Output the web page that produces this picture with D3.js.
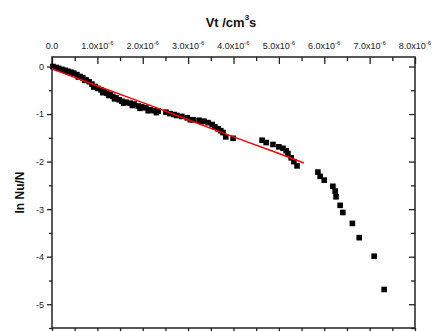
<!DOCTYPE html>
<html><head><meta charset="utf-8">
<script src="https://cdn.jsdelivr.net/npm/d3@7"></script>
<style>html,body{margin:0;padding:0;background:#fff;}svg{display:block;font-family:Arial,"Liberation Sans",sans-serif;}</style>
</head><body>
<svg id="c" width="436" height="331"></svg>
<script>
// x values in units of 1e-6 cm^3 s
const pointsX = [0.02,0.09,0.15,0.22,0.29,0.35,0.42,0.48,0.55,0.62,0.68,0.75,0.82,0.88,0.95,1.01,1.08,1.15,1.21,1.28,1.34,1.41,1.48,1.54,1.63,1.72,1.81,1.90,1.98,2.07,2.16,2.25,2.34,2.51,2.60,2.69,2.86,2.98,3.11,3.24,3.35,3.44,3.53,3.59,3.66,3.72,3.77,3.83,3.99,4.63,4.72,4.87,5.00,5.09,5.16,5.20,5.27,5.33,5.40,5.86,5.91,6.00,6.19,6.24,6.26,6.35,6.41,6.62,6.77,7.10,7.32,
  0.58,0.72,0.92,1.12,1.25,1.38,1.58,1.77,1.94,2.12,2.30,2.75,3.05,3.30];
const pointsY = [0.00,-0.02,-0.04,-0.06,-0.08,-0.10,-0.12,-0.14,-0.17,-0.21,-0.24,-0.28,-0.32,-0.37,-0.42,-0.46,-0.49,-0.53,-0.56,-0.59,-0.63,-0.66,-0.70,-0.73,-0.75,-0.77,-0.79,-0.83,-0.85,-0.87,-0.91,-0.93,-0.94,-0.96,-0.99,-1.01,-1.05,-1.08,-1.12,-1.13,-1.15,-1.18,-1.22,-1.27,-1.31,-1.35,-1.39,-1.48,-1.51,-1.55,-1.60,-1.64,-1.69,-1.72,-1.77,-1.83,-1.92,-2.00,-2.09,-2.22,-2.31,-2.39,-2.52,-2.62,-2.74,-2.92,-3.07,-3.30,-3.60,-3.99,-4.69,
  -0.22,-0.29,-0.43,-0.55,-0.61,-0.68,-0.77,-0.82,-0.88,-0.93,-0.97,-1.03,-1.12,-1.16];
const fitX = [0, 1, 2, 3, 4, 5, 5.55];
const fitY = [-0.05, -0.41, -0.76, -1.12, -1.48, -1.83, -2.03];
const xTickValues = [0,1,2,3,4,5,6,7,8];
const xTickMantissa = ["0.0","1.0","2.0","3.0","4.0","5.0","6.0","7.0","8.0"];
const xTickExponent = "-6";
const yTickValues = [0,-1,-2,-3,-4,-5];
const yTickLabels = ["0","-1","-2","-3","-4","-5"];
const xTitle = "Vt /cm";
const xTitleSup = "3";
const xTitleEnd = "s";
const yTitle = "ln Nu/N";

const svg = d3.select("#c");
const L = 52, R = 415, T = 57, B = 328;
const x = d3.scaleLinear().domain([0, 8]).range([L, R]);
const y = d3.scaleLinear().domain([0.2, -5.5]).range([T, B]);
const axisColor = "#222";

const xMinor = d3.range(0, 8.01, 0.5).filter(v => Math.abs(v - Math.round(v)) > 0.01);
const yMinor = d3.range(0, -5.51, -0.5).filter(v => Math.abs(v - Math.round(v)) > 0.01);

svg.append("g").attr("transform", `translate(0,${T})`)
  .call(d3.axisTop(x).tickValues(xTickValues).tickSize(-7).tickFormat(""));
svg.append("g").attr("transform", `translate(0,${T})`)
  .call(d3.axisTop(x).tickValues(xMinor).tickSize(-4).tickFormat(""));
svg.append("g").attr("transform", `translate(0,${B})`)
  .call(d3.axisBottom(x).tickValues(xTickValues).tickSize(7).tickFormat(""));
svg.append("g").attr("transform", `translate(0,${B})`)
  .call(d3.axisBottom(x).tickValues(xMinor).tickSize(4).tickFormat(""));
svg.append("g").attr("transform", `translate(${L},0)`)
  .call(d3.axisLeft(y).tickValues(yTickValues).tickSize(5).tickPadding(3).tickFormat((d,i)=>yTickLabels[i]))
  .attr("class","ylab");
svg.append("g").attr("transform", `translate(${L},0)`)
  .call(d3.axisLeft(y).tickValues(yMinor).tickSize(3).tickFormat(""));
svg.append("g").attr("transform", `translate(${R},0)`)
  .call(d3.axisRight(y).tickValues(yTickValues).tickSize(-6).tickFormat(""));
svg.append("g").attr("transform", `translate(${R},0)`)
  .call(d3.axisRight(y).tickValues(yMinor).tickSize(-4).tickFormat(""));

svg.selectAll(".domain").remove();
svg.selectAll(".tick line").attr("stroke", axisColor).attr("stroke-width", 1.3);
svg.selectAll(".ylab text").attr("font-size", 9).attr("fill", "#222").attr("font-family", "Arial, Liberation Sans, sans-serif");

svg.append("rect").attr("x", L).attr("y", T).attr("width", R - L).attr("height", B - T)
  .attr("fill", "none").attr("stroke", axisColor).attr("stroke-width", 1.5);

const tl = svg.append("g").selectAll("text").data(xTickValues).join("text")
  .attr("x", d => x(d)).attr("y", 49).attr("text-anchor", "middle")
  .attr("font-size", 9).attr("fill", "#222");
tl.each(function(d, i) {
  const t = d3.select(this);
  if (i === 0) { t.text(xTickMantissa[i]); return; }
  t.append("tspan").text(xTickMantissa[i] + "x10");
  t.append("tspan").attr("font-size", 6).attr("dy", -4).text(xTickExponent);
});

svg.append("g").selectAll("rect").data(pointsX.map((v,i)=>[v, pointsY[i]])).join("rect")
  .attr("x", d => x(d[0]) - 2.8).attr("y", d => y(d[1]) - 2.8)
  .attr("width", 5.6).attr("height", 5.6).attr("fill", "#000");

svg.append("path").datum(fitX.map((v,i)=>[v, fitY[i]]))
  .attr("d", d3.line().x(d => x(d[0])).y(d => y(d[1])))
  .attr("fill", "none").attr("stroke", "#f00").attr("stroke-width", 1.4);

const xt = svg.append("text").attr("x", 231).attr("y", 27).attr("text-anchor", "middle")
  .attr("font-size", 13).attr("font-weight", "bold").attr("fill", "#111");
xt.append("tspan").text(xTitle);
xt.append("tspan").attr("font-size", 8).attr("dy", -7).text(xTitleSup);
xt.append("tspan").attr("dy", 7).text(xTitleEnd);

svg.append("text").attr("transform", `translate(24,${(T+B)/2}) rotate(-90)`)
  .attr("text-anchor", "middle").attr("font-size", 12).attr("font-weight", "bold").attr("fill", "#111")
  .text(yTitle);
</script>
</body></html>
